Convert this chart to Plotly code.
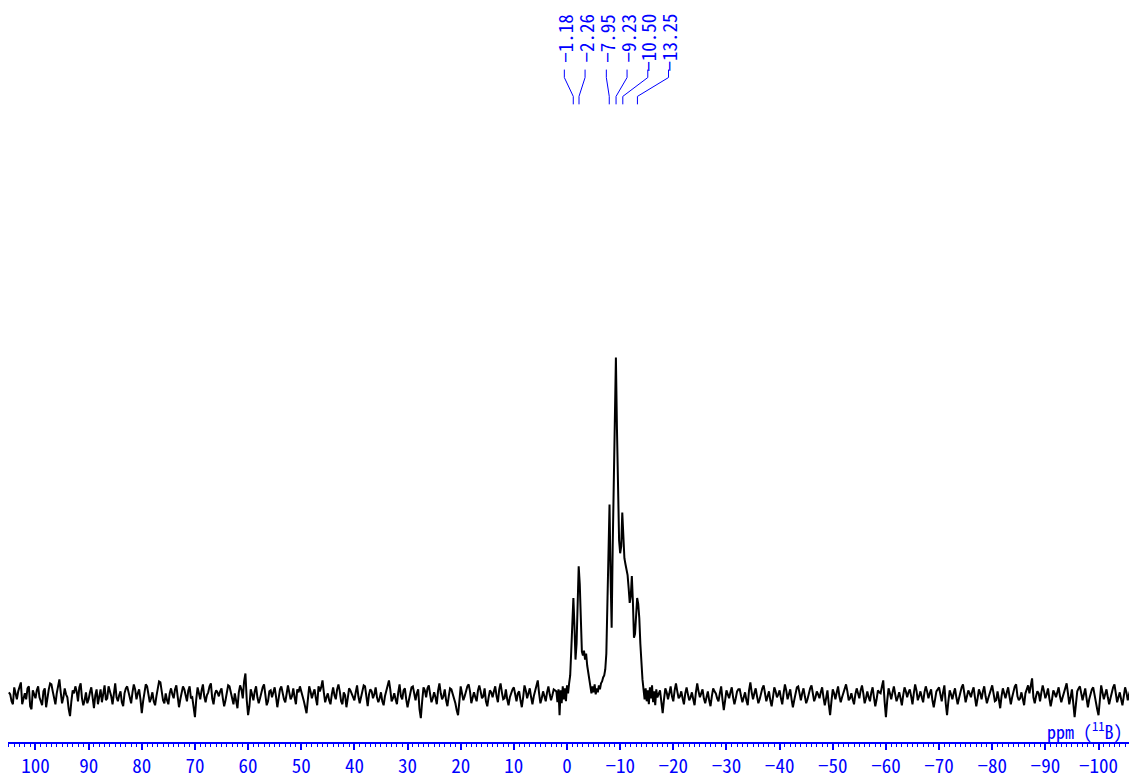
import plotly.graph_objects as go

# ---------------- data ----------------
# intensities in arbitrary units (baseline = 0, tallest peak = 340)
left_start, left_step = 105.0, -0.5     # ppm grid of left baseline segment
left_noise = [
    3, -6, 8, -4, 10, -9, 2, 7, -11, 5,
    -3, 9, -7, 4, -12, 6, 11, -5, 2, 16,
    -8, 7, -2, -21, 5, 9, -6, 12, -10, 3,
    -4, 8, -13, 6, 1, -7, 10, -3, 5, -9,
    12, -6, 4, -11, 7, 2, -8, 11, -4, 6,
    -18, 5, 9, -7, 3, -10, 8, 13, -5, 2,
    -9, 7, -3, 10, -12, 4, 6, -6, 9, -2,
    -22, 8, -4, 11, -7, 3, 12, -9, 5, -1,
    7, -11, 4, 9, -6, 2, -13, 10, -3, 22,
    -20, 6, -5, 9, -8, 3, 11, -10, 4, -2,
    8, -12, 6, 2, -7, 10, -4, 7, -9, 3,
    5, -6, -18, 9, -3, 6, -10, 4, 15, -7,
    2, -9, 8, -4, 11, -6, 3, -12, 7, 1,
    -5, 10, -8, 4, 9, -11, 6, -3, 8, -7,
    3, -10, 5, 15, -6, 2, -9, 11, -4, 7,
    -12, 4, 9, -5, 6, -23, 8, -2, 10, -7,
    3, -9, 12, -4, 6, -11, 7, 2, -8, -20,
    9, -5, 4, 11, -8, 3, -6, 10, -3, 7,
    -11, 5, -2, 9, -7, 12, -4, 6, -10, 3,
    8, -6, 4, -12, 10, -3, 7, -9, 5, 15,
    -8, 4, -6, 9, -5, 6,
]
# values read half-way between the samples above
left_noise_mid = [
    1, -9, 2, 4, 13, -3, -4, 9, -14, 1,
    5, -2, -10, 7, -1, 12, 4, -9, 8, 3,
    -2, 1, -14, -6, 2, 4, 8, -3, -5, -8,
    3, -2, 0, -9, 6, 2, -5, 9, -1, 3,
    -2, 0, -7, 2, 9, -5, 3, 6, 2, -4,
    -6, 11, 1, -3, -6, -1, 14, 4, -8, -5,
    2, 1, 6, -1, -4, 9, -2, 5, -3, -12,
    -4, 2, 5, -1, 0, 9, -3, 1, 3, 4,
    -3, -5, 10, 2, -9, -4, 3, 6, 14, -5,
    -11, 1, 4, -2, -3, 8, 2, -6, 5, 3,
    -1, -3, 9, -4, 2, 3, -1, -2, 6, 9,
    -1, -11, -4, 4, 2, -3, 9, 8, 3, -2,
    -5, 1, 0, 6, 4, -9, 0, -3, 5, -2,
    3, -1, -2, 10, -4, 1, 4, 1, -2, -3,
    -6, -1, 12, 6, -3, -4, 3, -1, 5, -4,
    -5, 8, 3, 2, -14, -6, 5, 7, 1, -3,
    -2, 5, 2, -1, -5, -1, 6, -4, -15, -6,
    2, -1, 9, 4, -3, -2, 5, 4, -1, -6,
    -2, 3, 4, -1, 6, 3, -3, -4, -2, 6,
    1, 2, -5, -2, 5, 2, -2, -1, 11, 2,
    -3, -1, 3, 1, 0,
]

peak_start, peak_step = 2.0, -0.2       # ppm grid of the signal region
peak_region = [
    4, -7, 6, -20, 5, -8, 9, -4, 7, -6,
    10, 2, 12, 20, 45, 75, 98, 70, 36, 52,
    92, 130, 112, 74, 44, 40, 45, 36, 42, 30,
    24, 17, 8, 2, 9, 3, 11, 1, 7, 3,
    10, 6, 12, 14, 18, 20, 26, 42, 92, 160,
    192, 120, 68, 150, 228, 292, 340, 268, 190, 156,
    143, 150, 184, 160, 138, 132, 126, 121, 108, 93,
    100, 120, 94, 58, 62, 80, 98, 92, 78, 52,
    32, 16, 6, -4, 7, -6, 5, -9, 8, -3,
    10, -7, 4, -10, 6, -2,
]

right_start, right_step = -17.5, -0.5   # ppm grid of right baseline segment
right_noise = [
    5, -18, 7, -4, 9, -6, 12, -3, 4, -9,
    8, -5, 3, -10, 12, -2, 6, -8, 4, -11,
    7, 2, -6, 9, -15, 5, -3, 8, -9, 4,
    6, -7, 3, -10, 13, -4, 7, -8, 2, 10,
    -6, 4, -11, 8, -2, 5, -9, 11, -4, 6,
    -12, 3, 9, -5, 7, -8, 2, 10, -6, 4,
    -3, 8, -10, 5, -20, 6, -4, 9, -7, 3,
    11, -5, 2, -9, 7, -3, 10, -8, 4, -6,
    8, -11, 5, 2, 15, -22, 7, -4, 9, -6,
    3, -10, 8, -2, 6, -9, 11, -5, 4, -7,
    9, -3, 6, -12, 4, 8, -6, 10, -20, 5,
    -4, 7, -9, 3, 11, -7, 5, -2, 8, -11,
    6, -4, 9, -8, 2, 10, -6, 4, -13, 7,
    -3, 8, -9, 5, 11, -5, 3, -10, 6, 2,
    17, -8, 4, -6, 10, -3, 7, -11, 5, -2,
    8, -7, 3, 12, -9, 6, -22, 4, 9, -5,
    7, -12, 3, 8, -6, -20, 10, -4, 6, -9,
    4, 11, -7, 3, -10, 8, -5, 6, -8, 4,
]
right_noise_mid = [
    -7, -4, 3, 2, -1, 5, 4, -1, -3, 2,
    1, -2, -4, 3, 4, 2, -3, -2, -5, -1,
    4, -3, 2, -4, -5, 1, 3, -2, -3, 6,
    -1, -2, -5, 5, 3, 2, -1, -4, 7, 3,
    -1, -5, -2, 4, 1, -3, 2, 5, 1, -4,
    -5, 8, 1, 2, -1, -4, 7, 3, -2, 1,
    3, -2, -3, -9, -6, 2, 3, -1, -2, 8,
    4, -3, -4, 1, 2, 5, 2, -3, -2, 3,
    -2, -4, 3, 9, -6, -5, 2, 3, 1, -2,
    -3, 0, 4, 3, -1, 2, 5, -1, -2, 3,
    4, 2, -5, -4, 6, 1, 3, -8, -6, 1,
    2, -2, -3, 8, 2, -1, 2, 4, -2, -3,
    2, 4, -1, -3, 6, 2, -5, -4, -1, 2,
    3, -1, -2, 9, -1, -3, -4, 2, 10, 8,
    -2, -1, 2, 3, 4, 1, -3, -4, 2, 3,
    -1, -2, 8, 2, -2, -8, -9, 7, 2, 1,
    -3, -4, 6, -1, -14, -4, 3, 1, -2, -3,
    8, 2, -2, -4, -1, 3, 1, -2, -1,
]

peak_ppm = [-1.18, -2.26, -7.95, -9.23, -10.50, -13.25]
peak_labels = ["−1.18", "−2.26", "−7.95", "−9.23", "−10.50", "−13.25"]
tick_vals = list(range(100, -101, -10))

# ---------------- layout / positions ----------------
label_ppm = [0.5, -3.4, -7.4, -11.3, -15.2, -19.1]
x_range = [105.17, -107.24]
y_range = [-47, 692]
BLUE = "#0000FF"
FONT = "Noto Sans Mono CJK JP, Noto Sans CJK JP, sans-serif"


def interleave(start, step, main, mid):
    xs, ys = [], []
    for i, v in enumerate(main):
        xs.append(round(start + step * i, 3))
        ys.append(v)
        if i < len(mid):
            xs.append(round(start + step * (i + 0.5), 3))
            ys.append(mid[i])
    return xs, ys


xl, yl = interleave(left_start, left_step, left_noise, left_noise_mid)
xp, yp = interleave(peak_start, peak_step, peak_region, [])
xr, yr = interleave(right_start, right_step, right_noise, right_noise_mid)
x = xl + xp + xr
y = yl + yp + yr

fig = go.Figure()
fig.add_trace(go.Scatter(x=x, y=y, mode="lines",
                         line=dict(color="black", width=2),
                         hoverinfo="skip", showlegend=False))

# peak labels and connector lines
for p, lp, txt in zip(peak_ppm, label_ppm, peak_labels):
    fig.add_annotation(x=lp, y=688, xref="x", yref="y", text=txt,
                       textangle=-90, showarrow=False,
                       xanchor="center", yanchor="top",
                       font=dict(family=FONT, size=19, color=BLUE))
    fig.add_trace(go.Scatter(x=[lp, lp, p, p], y=[630, 622, 603, 595],
                             mode="lines", line=dict(color=BLUE, width=1),
                             hoverinfo="skip", showlegend=False,
                             cliponaxis=False))

# unit label (plot area is 1129 x 739 px)
fig.add_annotation(x=(1125 - 8) / 1129, y=(739 - 727) / 739,
                   xref="paper", yref="paper",
                   text="ppm (<sup>11</sup>B)", showarrow=False,
                   xanchor="right", yanchor="middle",
                   font=dict(family=FONT, size=18, color=BLUE))

fig.update_layout(
    width=1129, height=770,
    margin=dict(l=0, r=0, t=0, b=31, pad=0),
    paper_bgcolor="white", plot_bgcolor="white",
    xaxis=dict(range=x_range, tickvals=tick_vals,
               showgrid=False, zeroline=False,
               showline=True, linecolor=BLUE, linewidth=1.5,
               ticks="outside", ticklen=6, tickwidth=1.5, tickcolor=BLUE,
               tickfont=dict(family=FONT, size=19, color=BLUE),
               minor=dict(dtick=1, tick0=0, ticks="outside", ticklen=3,
                          tickwidth=1, tickcolor=BLUE, showgrid=False)),
    yaxis=dict(range=y_range, visible=False, showgrid=False, zeroline=False),
)

fig.write_html("out.html")
